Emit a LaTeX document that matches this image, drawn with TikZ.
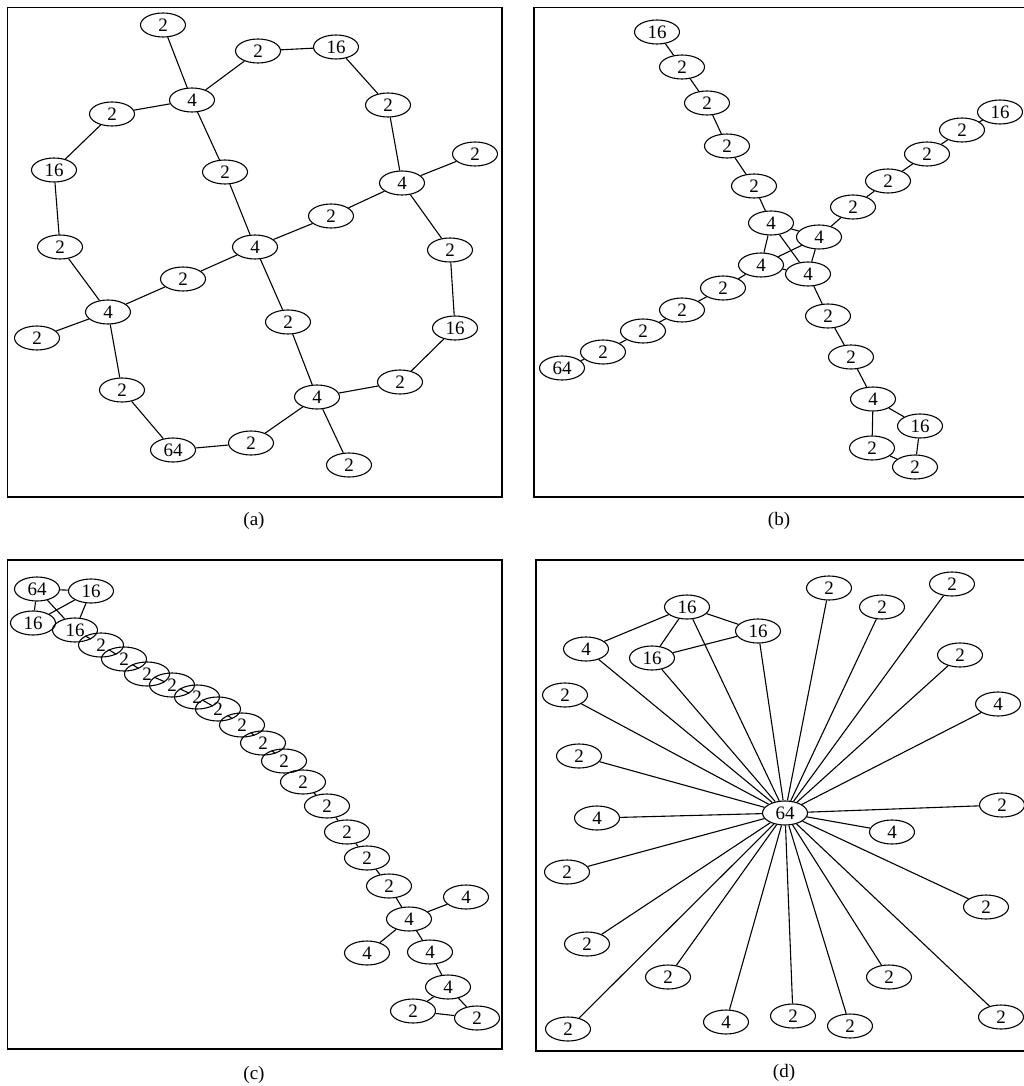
\documentclass[tikz,border=0pt]{standalone}
\usepackage{fontspec}
\setmainfont{Liberation Serif}
\usetikzlibrary{shapes.geometric}
\tikzset{
  gn/.style={ellipse, draw, line width=1.1pt, minimum width=45pt, minimum height=24pt, inner sep=0pt, font=\fontsize{19}{21}\selectfont},
  ge/.style={line width=1.1pt},
  frm/.style={line width=1.5pt},
  captxt/.style={font=\fontsize{19}{21}\selectfont}
}
\begin{document}
\begin{tikzpicture}[x=1pt,y=-1pt]
\useasboundingbox (0,0) rectangle (1023,1086);
% frames
\draw[frm] (7.5,7.5) rectangle (502,497);
\draw[frm] (534,7.5) rectangle (1032,497);
\draw[frm] (7.5,560) rectangle (502,1049);
\draw[frm] (536,560) rectangle (1032,1051);
\node[captxt] (capa) at (254,521) {(a)};
\node[captxt] (capb) at (779,521) {(b)};
\node[captxt] (capc) at (254,1075) {(c)};
\node[captxt] (capd) at (784,1073) {(d)};
% ---------- panel a
\node[gn] (a1) at (163,25) {2};
\node[gn] (a2) at (192,100) {4};
\node[gn] (a3) at (258,51) {2};
\node[gn] (a4) at (336,47) {16};
\node[gn] (a5) at (388,105) {2};
\node[gn] (a6) at (402,183) {4};
\node[gn] (a7) at (475,154) {2};
\node[gn] (a8) at (450,250) {2};
\node[gn] (a9) at (331,216) {2};
\node[gn] (a10) at (255,247) {4};
\node[gn] (a11) at (112,114) {2};
\node[gn] (a12) at (54,170) {16};
\node[gn] (a13) at (60,247) {2};
\node[gn] (a14) at (108,312) {4};
\node[gn] (a15) at (225,172) {2};
\node[gn] (a16) at (183,279) {2};
\node[gn] (a17) at (37,338) {2};
\node[gn] (a18) at (122,390) {2};
\node[gn] (a19) at (173,450) {64};
\node[gn] (a20) at (251,443) {2};
\node[gn] (a21) at (317,397) {4};
\node[gn] (a22) at (288,322) {2};
\node[gn] (a23) at (400,382) {2};
\node[gn] (a24) at (455,328) {16};
\node[gn] (a25) at (349,465) {2};
\foreach \u/\v in {a1/a2,a2/a3,a3/a4,a4/a5,a5/a6,a6/a7,a6/a8,a6/a9,a9/a10,a2/a11,a11/a12,a12/a13,a13/a14,a2/a15,a15/a10,a10/a16,a16/a14,a14/a17,a14/a18,a18/a19,a19/a20,a20/a21,a10/a22,a22/a21,a21/a23,a23/a24,a24/a8,a21/a25}
  \draw[ge] (\u) -- (\v);
% ---------- panel b
\node[gn] (b1) at (657,32) {16};
\node[gn] (b2) at (682,67) {2};
\node[gn] (b3) at (707,103) {2};
\node[gn] (b4) at (727,146) {2};
\node[gn] (b5) at (754,186) {2};
\node[gn] (b6) at (771,223) {4};
\node[gn] (b7) at (1000,112) {16};
\node[gn] (b8) at (962,130) {2};
\node[gn] (b9) at (927,154) {2};
\node[gn] (b10) at (888,181) {2};
\node[gn] (b11) at (853,207) {2};
\node[gn] (b12) at (819,237) {4};
\node[gn] (b13) at (562,368) {64};
\node[gn] (b14) at (603,352) {2};
\node[gn] (b15) at (643,331) {2};
\node[gn] (b16) at (682,310) {2};
\node[gn] (b17) at (723,288) {2};
\node[gn] (b18) at (761,265) {4};
\node[gn] (b19) at (808,274) {4};
\node[gn] (b20) at (828,316) {2};
\node[gn] (b21) at (851,357) {2};
\node[gn] (b22) at (873,399) {4};
\node[gn] (b23) at (920,426) {16};
\node[gn] (b24) at (915,467) {2};
\node[gn] (b25) at (872,448) {2};
\foreach \u/\v in {b1/b2,b2/b3,b3/b4,b4/b5,b5/b6,b7/b8,b8/b9,b9/b10,b10/b11,b11/b12,b13/b14,b14/b15,b15/b16,b16/b17,b17/b18,b6/b12,b6/b18,b6/b19,b12/b18,b12/b19,b18/b19,b19/b20,b20/b21,b21/b22,b22/b23,b23/b24,b24/b25,b25/b22}
  \draw[ge] (\u) -- (\v);
% ---------- panel c
\node[gn] (c1) at (37,589) {64};
\node[gn] (c2) at (91,591) {16};
\node[gn] (c3) at (33,623) {16};
\node[gn] (c4) at (75,630) {16};
\node[gn] (c5) at (101,645) {2};
\node[gn] (c6) at (124,659) {2};
\node[gn] (c7) at (147,674) {2};
\node[gn] (c8) at (172,685) {2};
\node[gn] (c9) at (197,697) {2};
\node[gn] (c10) at (218,709) {2};
\node[gn] (c11) at (242,725) {2};
\node[gn] (c12) at (263,743) {2};
\node[gn] (c13) at (284,761) {2};
\node[gn] (c14) at (303,782) {2};
\node[gn] (c15) at (327,806) {2};
\node[gn] (c16) at (347,832) {2};
\node[gn] (c17) at (367,858) {2};
\node[gn] (c18) at (389,886) {2};
\node[gn] (c19) at (409,919) {4};
\node[gn] (c20) at (466,897) {4};
\node[gn] (c21) at (367,953) {4};
\node[gn] (c22) at (430,952) {4};
\node[gn] (c23) at (448,987) {4};
\node[gn] (c24) at (413,1011) {2};
\node[gn] (c25) at (477,1018) {2};
\foreach \u/\v in {c1/c2,c1/c3,c1/c4,c2/c3,c2/c4,c3/c4,c4/c5,c5/c6,c6/c7,c7/c8,c8/c9,c9/c10,c10/c11,c11/c12,c12/c13,c13/c14,c14/c15,c15/c16,c16/c17,c17/c18,c18/c19,c19/c20,c19/c21,c19/c22,c22/c23,c23/c24,c23/c25,c24/c25}
  \draw[ge] (\u) -- (\v);
% ---------- panel d
\node[gn] (d0) at (785,813) {64};
\node[gn] (d1) at (687,607) {16};
\node[gn] (d2) at (758,631) {16};
\node[gn] (d3) at (586,649) {4};
\node[gn] (d4) at (652,658) {16};
\node[gn] (d5) at (829,588) {2};
\node[gn] (d6) at (882,607) {2};
\node[gn] (d7) at (952,584) {2};
\node[gn] (d8) at (960,655) {2};
\node[gn] (d9) at (565,695) {2};
\node[gn] (d10) at (998,704) {4};
\node[gn] (d11) at (579,756) {2};
\node[gn] (d12) at (1002,805) {2};
\node[gn] (d13) at (597,818) {4};
\node[gn] (d14) at (892,832) {4};
\node[gn] (d15) at (567,872) {2};
\node[gn] (d16) at (986,907) {2};
\node[gn] (d17) at (587,944) {2};
\node[gn] (d18) at (668,977) {2};
\node[gn] (d19) at (889,977) {2};
\node[gn] (d20) at (568,1029) {2};
\node[gn] (d21) at (726,1022) {4};
\node[gn] (d22) at (793,1016) {2};
\node[gn] (d23) at (850,1026) {2};
\node[gn] (d24) at (1001,1017) {2};
\foreach \u/\v in {d1/d3,d1/d4,d1/d2,d4/d2}
  \draw[ge] (\u) -- (\v);
\foreach \v in {d1,d2,d3,d4,d5,d6,d7,d8,d9,d10,d11,d12,d13,d14,d15,d16,d17,d18,d19,d20,d21,d22,d23,d24}
  \draw[ge] (d0) -- (\v);
\end{tikzpicture}
\end{document}
